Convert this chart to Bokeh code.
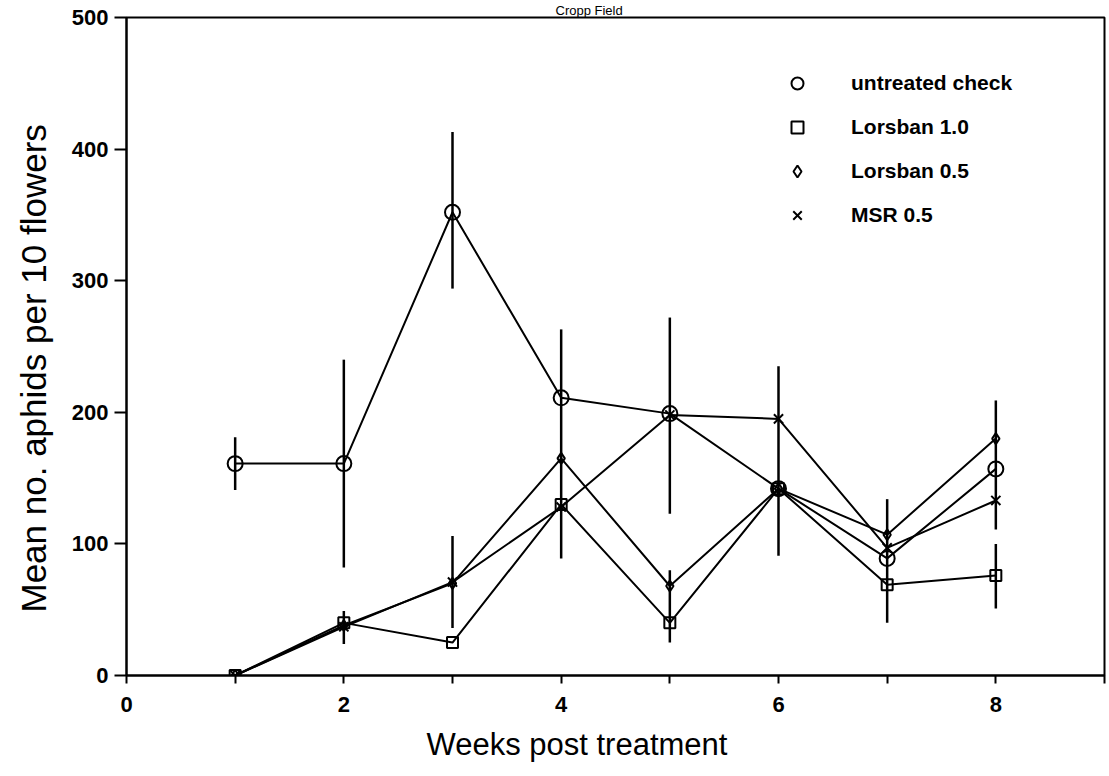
from bokeh.plotting import figure
from bokeh.models import ColumnDataSource, Legend, LegendItem, FixedTicker, Range1d, Title
from bokeh.embed import file_html
from bokeh.resources import INLINE

# ---- data ----
weeks = [1, 2, 3, 4, 5, 6, 7, 8]
untreated = [161, 161, 352, 211, 199, 142, 89, 157]
lorsban10 = [0, 40, 25, 130, 40, 142, 69, 76]
lorsban05 = [0, 38, 70, 165, 68, 142, 107, 180]
msr05 = [0, 37, 71, 128, 198, 195, 97, 133]

# error bars (week, lower, upper)
err_week = [1, 2, 2, 3, 3, 4, 5, 5, 6, 7, 8, 8]
err_low = [141, 82, 24, 294, 36, 89, 123, 25, 91, 40, 111, 51]
err_high = [181, 240, 49, 413, 106, 263, 272, 80, 235, 134, 209, 100]

series_names = ["untreated check", "Lorsban 1.0", "Lorsban 0.5", "MSR 0.5"]
x_ticks = [0, 1, 2, 3, 4, 5, 6, 7, 8, 9]
x_tick_labels = {0: "0", 1: "", 2: "2", 3: "", 4: "4", 5: "", 6: "6", 7: "", 8: "8", 9: ""}
y_ticks = [0, 100, 200, 300, 400, 500]

FONT = "Liberation Sans"

p = figure(width=1109, height=776, output_backend="svg", toolbar_location=None,
           x_range=Range1d(0, 9), y_range=Range1d(0, 500),
           min_border_left=126, min_border_right=5, min_border_top=16, min_border_bottom=101)
p.background_fill_color = "white"
p.border_fill_color = "white"
p.grid.visible = False
p.outline_line_color = "black"
p.outline_line_width = 2

# axes
p.xaxis.ticker = FixedTicker(ticks=x_ticks)
p.xaxis.major_label_overrides = x_tick_labels
p.yaxis.ticker = FixedTicker(ticks=y_ticks)
for ax in (p.xaxis, p.yaxis):
    ax.axis_line_color = "black"
    ax.axis_line_width = 2
    ax.major_tick_line_color = "black"
    ax.major_tick_line_width = 2
    ax.major_tick_in = 0
    ax.minor_tick_line_color = None
    ax.major_label_text_font = FONT
    ax.major_label_text_font_style = "bold"
    ax.major_label_text_font_size = "22px"
    ax.major_label_text_color = "black"
p.xaxis.major_tick_out = 8
p.yaxis.major_tick_out = 12
p.xaxis.major_label_standoff = 13
p.yaxis.major_label_standoff = 6

# axis titles as side-panel titles (offset like the original)
xt = Title(text="Weeks post treatment", align="left", offset=300, standoff=20,
           text_font=FONT, text_font_size="31px", text_font_style="normal",
           text_color="black")
yt = Title(text="Mean no. aphids per 10 flowers", align="left", offset=63, standoff=27,
           vertical_align="top",
           text_font=FONT, text_font_size="35px", text_font_style="normal",
           text_color="black")
p.add_layout(xt, "below")
p.add_layout(yt, "left")

mt = Title(text="Cropp Field", align="left", offset=429, standoff=0,
           text_font=FONT, text_font_size="13px", text_font_style="normal",
           text_color="black")
p.add_layout(mt, "above")

# lines
for vals in (untreated, lorsban10, lorsban05, msr05):
    p.line(weeks, vals, line_color="black", line_width=2)

# error bars
esrc = ColumnDataSource(dict(x=err_week, lo=err_low, hi=err_high))
p.segment(x0="x", y0="lo", x1="x", y1="hi", source=esrc, line_color="black", line_width=2.5)

# markers
markers = ["circle", "square", "diamond", "x"]
sizes = [15, 11, 11, 13]
rends = []
for vals, m, s in zip((untreated, lorsban10, lorsban05, msr05), markers, sizes):
    r = p.scatter(weeks, vals, marker=m, size=s, line_color="black", line_width=2,
                  fill_color=None)
    rends.append(r)

legend = Legend(items=[LegendItem(label=n, renderers=[r]) for n, r in zip(series_names, rends)],
                location=(656, 445), orientation="vertical",
                glyph_width=30, glyph_height=30, label_height=30, spacing=14,
                label_standoff=39, padding=0, margin=0,
                border_line_color=None, background_fill_alpha=0,
                label_text_font=FONT, label_text_font_style="bold",
                label_text_font_size="21px", label_text_color="black",
                label_text_baseline="middle")
p.add_layout(legend, "center")

open("out.html", "w").write(file_html(p, INLINE))
